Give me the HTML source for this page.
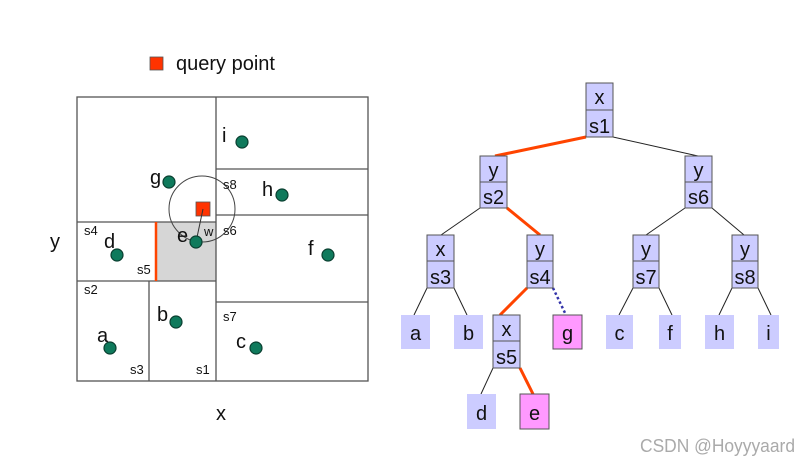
<!DOCTYPE html>
<html><head><style>
body{margin:0;background:#fff;}
svg text{font-family:"Liberation Sans",sans-serif;}
</style></head><body>
<svg width="812" height="464" viewBox="0 0 812 464" xmlns="http://www.w3.org/2000/svg">
<rect width="812" height="464" fill="#fff"/>
<rect x="150" y="57" width="13" height="13" fill="#ff3300" stroke="#555" stroke-width="0.8"/>
<text x="176" y="70" font-size="20" fill="#111">query point</text>
<rect x="156" y="222" width="60" height="59" fill="#d6d6d6"/>
<g stroke="#555" stroke-width="1.3" fill="none">
<rect x="77" y="97" width="291" height="284"/>
<line x1="216" y1="97" x2="216" y2="381"/>
<line x1="77" y1="222" x2="216" y2="222"/>
<line x1="77" y1="281" x2="216" y2="281"/>
<line x1="149" y1="281" x2="149" y2="381"/>
<line x1="216" y1="169" x2="368" y2="169"/>
<line x1="216" y1="215" x2="368" y2="215"/>
<line x1="216" y1="302" x2="368" y2="302"/>
</g>
<line x1="156" y1="222" x2="156" y2="281" stroke="#ff4400" stroke-width="2.5"/>
<circle cx="202" cy="209" r="33" fill="none" stroke="#444" stroke-width="1"/>
<rect x="196" y="202" width="14" height="14" fill="#ff3300" stroke="#555" stroke-width="0.8"/>
<line x1="196" y1="242" x2="203" y2="209" stroke="#333" stroke-width="1"/>
<g fill="#0f7a5c" stroke="#0a3f30" stroke-width="1.2">
<circle cx="242" cy="142" r="6"/><circle cx="169" cy="182" r="6"/><circle cx="282" cy="195" r="6"/>
<circle cx="196" cy="242" r="6"/><circle cx="117" cy="255" r="6"/><circle cx="328" cy="255" r="6"/>
<circle cx="176" cy="322" r="6"/><circle cx="110" cy="348" r="6"/><circle cx="256" cy="348" r="6"/>
</g>
<g font-size="20" fill="#111">
<text x="222" y="142">i</text><text x="150" y="184">g</text><text x="262" y="196">h</text>
<text x="177" y="242">e</text><text x="104" y="248">d</text><text x="308" y="255">f</text>
<text x="157" y="321">b</text><text x="97" y="342">a</text><text x="236" y="348">c</text>
<text x="50" y="248">y</text><text x="216" y="420">x</text>
</g>
<g font-size="13" fill="#111">
<text x="223" y="189">s8</text><text x="223" y="235">s6</text><text x="204" y="236">w</text>
<text x="84" y="235">s4</text><text x="137" y="274">s5</text><text x="84" y="294">s2</text>
<text x="223" y="321">s7</text><text x="130" y="374">s3</text><text x="196" y="374">s1</text>
</g>
<g stroke="#222" stroke-width="1" fill="none">
<line x1="613" y1="137" x2="698" y2="156"/>
<line x1="480" y1="208" x2="441" y2="235"/>
<line x1="685" y1="208" x2="646" y2="235"/>
<line x1="712" y1="208" x2="744" y2="235"/>
<line x1="427" y1="288" x2="414" y2="315"/>
<line x1="454" y1="288" x2="467" y2="315"/>
<line x1="633" y1="288" x2="619" y2="315"/>
<line x1="659" y1="288" x2="672" y2="315"/>
<line x1="732" y1="288" x2="719" y2="315"/>
<line x1="758" y1="288" x2="771" y2="315"/>
<line x1="493" y1="368" x2="481" y2="394"/>
</g>
<g stroke="#ff4400" stroke-width="3" fill="none">
<line x1="586" y1="137" x2="495" y2="156"/>
<line x1="507" y1="208" x2="540" y2="235"/>
<line x1="527" y1="288" x2="500" y2="315"/>
<line x1="520" y1="368" x2="533" y2="394"/>
</g>
<line x1="553" y1="288" x2="566" y2="315" stroke="#3333aa" stroke-width="2.5" stroke-dasharray="2.5,2.5"/>
<g stroke="#555" stroke-width="1" fill="#ccccff">
<rect x="586" y="83" width="27" height="54"/><line x1="586" y1="110" x2="613" y2="110"/>
<rect x="480" y="156" width="27" height="52"/><line x1="480" y1="182" x2="507" y2="182"/>
<rect x="685" y="156" width="27" height="52"/><line x1="685" y1="182" x2="712" y2="182"/>
<rect x="427" y="235" width="27" height="53"/><line x1="427" y1="261" x2="454" y2="261"/>
<rect x="527" y="235" width="26" height="53"/><line x1="527" y1="261" x2="553" y2="261"/>
<rect x="633" y="235" width="26" height="53"/><line x1="633" y1="261" x2="659" y2="261"/>
<rect x="732" y="235" width="26" height="53"/><line x1="732" y1="261" x2="758" y2="261"/>
<rect x="493" y="315" width="27" height="53"/><line x1="493" y1="341" x2="520" y2="341"/>
</g>
<g fill="#ccccff">
<rect x="401" y="315" width="29" height="34"/><rect x="454" y="315" width="29" height="34"/>
<rect x="606" y="315" width="27" height="34"/><rect x="659" y="315" width="22" height="34"/>
<rect x="705" y="315" width="29" height="34"/><rect x="758" y="315" width="21" height="34"/>
<rect x="467" y="394" width="29" height="35"/>
</g>
<g fill="#ff99ff" stroke="#555" stroke-width="1">
<rect x="553" y="315" width="29" height="34"/><rect x="520" y="394" width="29" height="35"/>
</g>
<g font-size="20" fill="#111" text-anchor="middle">
<text x="599.5" y="104">x</text><text x="599.5" y="133">s1</text>
<text x="493.5" y="177">y</text><text x="493.5" y="204">s2</text>
<text x="698.5" y="177">y</text><text x="698.5" y="204">s6</text>
<text x="440.5" y="256">x</text><text x="440.5" y="284">s3</text>
<text x="540" y="256">y</text><text x="540" y="284">s4</text>
<text x="646" y="256">y</text><text x="646" y="284">s7</text>
<text x="745" y="256">y</text><text x="745" y="284">s8</text>
<text x="506.5" y="336">x</text><text x="506.5" y="364">s5</text>
<text x="415.5" y="340">a</text><text x="468.5" y="340">b</text>
<text x="567.5" y="340">g</text><text x="619.5" y="340">c</text>
<text x="670" y="340">f</text><text x="719.5" y="340">h</text><text x="768.5" y="340">i</text>
<text x="481.5" y="420">d</text><text x="534.5" y="420">e</text>
</g>
<text x="640" y="452" font-size="18" fill="#aaa" textLength="155" lengthAdjust="spacingAndGlyphs">CSDN @Hoyyyaard</text>
</svg>
</body></html>
